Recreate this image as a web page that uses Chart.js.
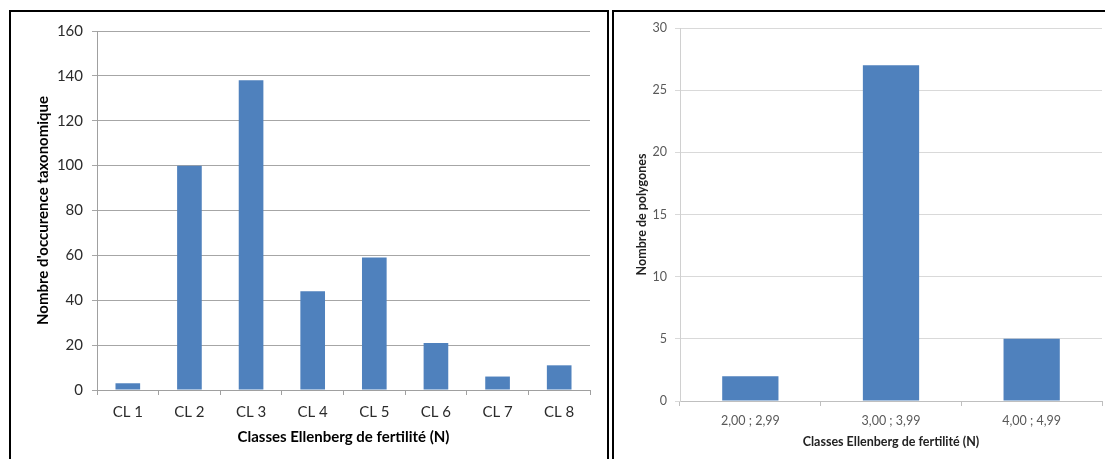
<!DOCTYPE html>
<html lang="fr">
<head>
<meta charset="UTF-8">
<title>Classes Ellenberg de fertilité</title>
<script src="https://cdn.jsdelivr.net/npm/chart.js@4"></script>
<style>
    body{
        margin: 0;
        background: #fff;
        width: 1105px;
        height: 459px;
        overflow: hidden;
        position: relative;
    }
    .panel{
        position: absolute;
        border: 2px solid #000;
        background: #fff;
    }
    #leftPanel{
        left: 9px;
        top: 10px;
        width: 596px;
        height: 460px;
    }
    #rightPanel{
        left: 612px;
        top: 10px;
        width: 500px;
        height: 460px;
        border-right: none;
        border-bottom: none;
    }
    canvas{
        position: absolute;
        left: 0;
        top: 0;
    }
</style>
</head>
<body>
<div class="panel" id="leftPanel"><canvas id="chartLeft" width="596" height="447"></canvas></div>
<div class="panel" id="rightPanel"><canvas id="chartRight" width="491" height="447"></canvas></div>
<script>
// left chart: occurrences per class
const classes = ["CL 1", "CL 2", "CL 3", "CL 4", "CL 5", "CL 6", "CL 7", "CL 8"];
const occurrences = [3, 100, 138, 44, 59, 21, 6, 11];

// right chart: polygons per interval
const intervals = ["2,00 ; 2,99", "3,00 ; 3,99", "4,00 ; 4,99"];
const polygons = [2, 27, 5];

const blue = "#4f81bd";
const font = "Lato, 'Liberation Sans', sans-serif";

Chart.defaults.font.family = font;
Chart.defaults.animation = false;

new Chart(document.getElementById("chartLeft"), {
    type: "bar",
    data: {
        labels: classes,
        datasets: [{
            data: occurrences,
            backgroundColor: blue,
            barPercentage: 0.4,
            categoryPercentage: 1
        }]
    },
    options: {
        responsive: false,
        layout: { padding: { top: 19, right: 17, left: 0, bottom: 0 } },
        plugins: { legend: { display: false }, tooltip: { enabled: false } },
        scales: {
            x: {
                afterFit: (s) => { s.height = 69; },
                grid: { drawOnChartArea: false, tickLength: 5, color: "#a0a0a0" },
                border: { color: "#a0a0a0" },
                ticks: { color: "#2b2b2b", font: { size: 15 }, padding: 8 },
                title: {
                    display: true,
                    text: "Classes Ellenberg de fertilité (N)",
                    color: "#000",
                    font: { size: 15, weight: "bold" },
                    padding: { top: 0, bottom: 13 }
                }
            },
            y: {
                min: 0,
                max: 160,
                afterFit: (s) => { s.width = 86; },
                grid: { color: "#a6a6a6", tickLength: 5 },
                border: { color: "#a0a0a0" },
                ticks: { stepSize: 20, color: "#2b2b2b", font: { size: 15 }, padding: 9 },
                title: {
                    display: true,
                    text: "Nombre d'occurence taxonomique",
                    color: "#000",
                    font: { size: 15, weight: "bold" },
                    padding: { top: 23, bottom: 0 }
                }
            }
        }
    }
});

new Chart(document.getElementById("chartRight"), {
    type: "bar",
    data: {
        labels: intervals,
        datasets: [{
            data: polygons,
            backgroundColor: blue,
            barPercentage: 0.4,
            categoryPercentage: 1
        }]
    },
    options: {
        responsive: false,
        layout: { padding: { top: 16, right: 3, left: 0, bottom: 0 } },
        plugins: { legend: { display: false }, tooltip: { enabled: false } },
        scales: {
            x: {
                afterFit: (s) => { s.height = 58; },
                grid: { drawOnChartArea: false, tickLength: 5, color: "#bfbfbf" },
                border: { color: "#bfbfbf" },
                ticks: { color: "#595959", font: { size: 12.5 }, padding: 7 },
                title: {
                    display: true,
                    text: "Classes Ellenberg de fertilité (N)",
                    color: "#222",
                    font: { size: 12.5, weight: "bold" },
                    padding: { top: 0, bottom: 10 }
                }
            },
            y: {
                min: 0,
                max: 30,
                afterFit: (s) => { s.width = 66; },
                grid: { color: "#d9d9d9", tickLength: 5 },
                border: { color: "#d0d0d0" },
                ticks: { stepSize: 5, color: "#595959", font: { size: 12.5 }, padding: 8 },
                title: {
                    display: true,
                    text: "Nombre de polygones",
                    color: "#222",
                    font: { size: 12.5, weight: "bold" },
                    padding: { top: 20, bottom: 0 }
                }
            }
        }
    }
});
</script>
</body>
</html>
